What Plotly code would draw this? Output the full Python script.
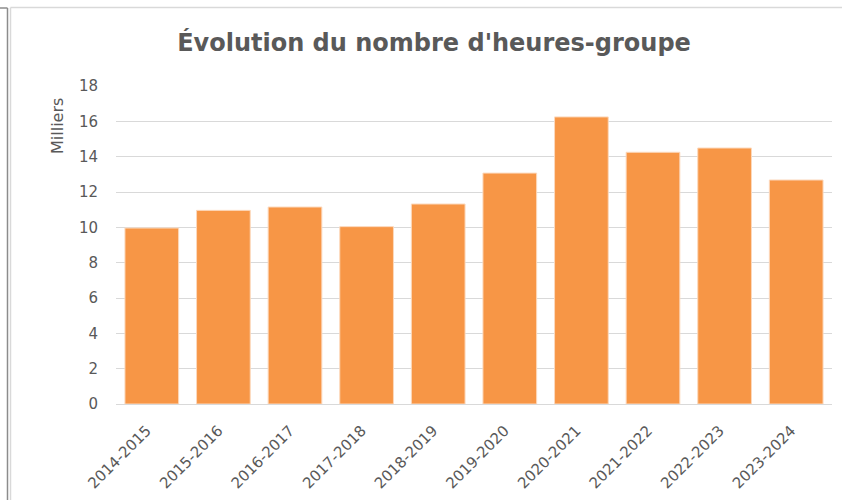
import plotly.graph_objects as go

categories = ["2014-2015", "2015-2016", "2016-2017", "2017-2018", "2018-2019",
              "2019-2020", "2020-2021", "2021-2022", "2022-2023", "2023-2024"]
values = [9.96, 10.96, 11.15, 10.04, 11.32, 13.07, 16.25, 14.25, 14.49, 12.68]
y_ticks = [0, 2, 4, 6, 8, 10, 12, 14, 16, 18]

title_text = "Évolution du nombre d'heures-groupe"
unit_text = "Milliers"

W, H = 842, 500
L, R, T, B = 116, 10, 86, 96
PW, PH = W - L - R, H - T - B

def px(x):
    return (x - L) / PW

def py(y):
    return (H - B - y) / PH

FONT = "DejaVu Sans"
GREY = "#595959"

fig = go.Figure(go.Bar(
    x=categories, y=values,
    marker=dict(color="#F79646", line=dict(color="#FCD9BD", width=1)),
))

fig.update_layout(
    width=W, height=H,
    margin=dict(l=L, r=R, t=T, b=B, autoexpand=False),
    paper_bgcolor="white", plot_bgcolor="white",
    bargap=0.25,
    showlegend=False,
    font=dict(family=FONT, color=GREY, size=15),
    title=dict(text="<b>" + title_text + "</b>", x=px(434), xref="paper",
               xanchor="center", y=1 - 43 / H, yanchor="middle",
               font=dict(family=FONT, size=24, color=GREY)),
    xaxis=dict(
        type="category", tickangle=-45,
        showline=True, linecolor="#d9d9d9", linewidth=1,
        ticks="outside", ticklen=11, tickcolor="rgba(0,0,0,0)",
        ticklabelshift=-5,
        tickfont=dict(size=15, color=GREY), showgrid=False,
    ),
    yaxis=dict(
        range=[0, 18], tickvals=y_ticks,
        showgrid=True, gridcolor="#d9d9d9", gridwidth=1,
        zeroline=False, showline=False,
        ticks="outside", ticklen=14, tickcolor="rgba(0,0,0,0)",
        tickfont=dict(size=15, color=GREY),
    ),
    annotations=[dict(
        text=unit_text, textangle=-90, x=px(57), y=py(126),
        xref="paper", yref="paper", showarrow=False,
        xanchor="center", yanchor="middle",
        font=dict(family=FONT, size=16, color=GREY),
    )],
    shapes=[
        dict(type="line", xref="paper", yref="paper",
             x0=px(10.5), x1=px(842), y0=py(7.5), y1=py(7.5),
             line=dict(color="#d9d9d9", width=1.5)),
        dict(type="line", xref="paper", yref="paper",
             x0=px(10.5), x1=px(10.5), y0=py(7.5), y1=py(500),
             line=dict(color="#d9d9d9", width=1.5)),
        dict(type="line", xref="paper", yref="paper",
             x0=px(7.5), x1=px(7.5), y0=py(8), y1=py(500),
             line=dict(color="#8c8c8c", width=1.5)),
        dict(type="line", xref="paper", yref="paper",
             x0=px(0), x1=px(7.5), y0=py(8), y1=py(8),
             line=dict(color="#8c8c8c", width=1.5)),
    ],
)

fig.write_html("out.html",
               config={"displayModeBar": False},
               post_script="document.body.style.margin='0';document.body.style.overflow='hidden';")
